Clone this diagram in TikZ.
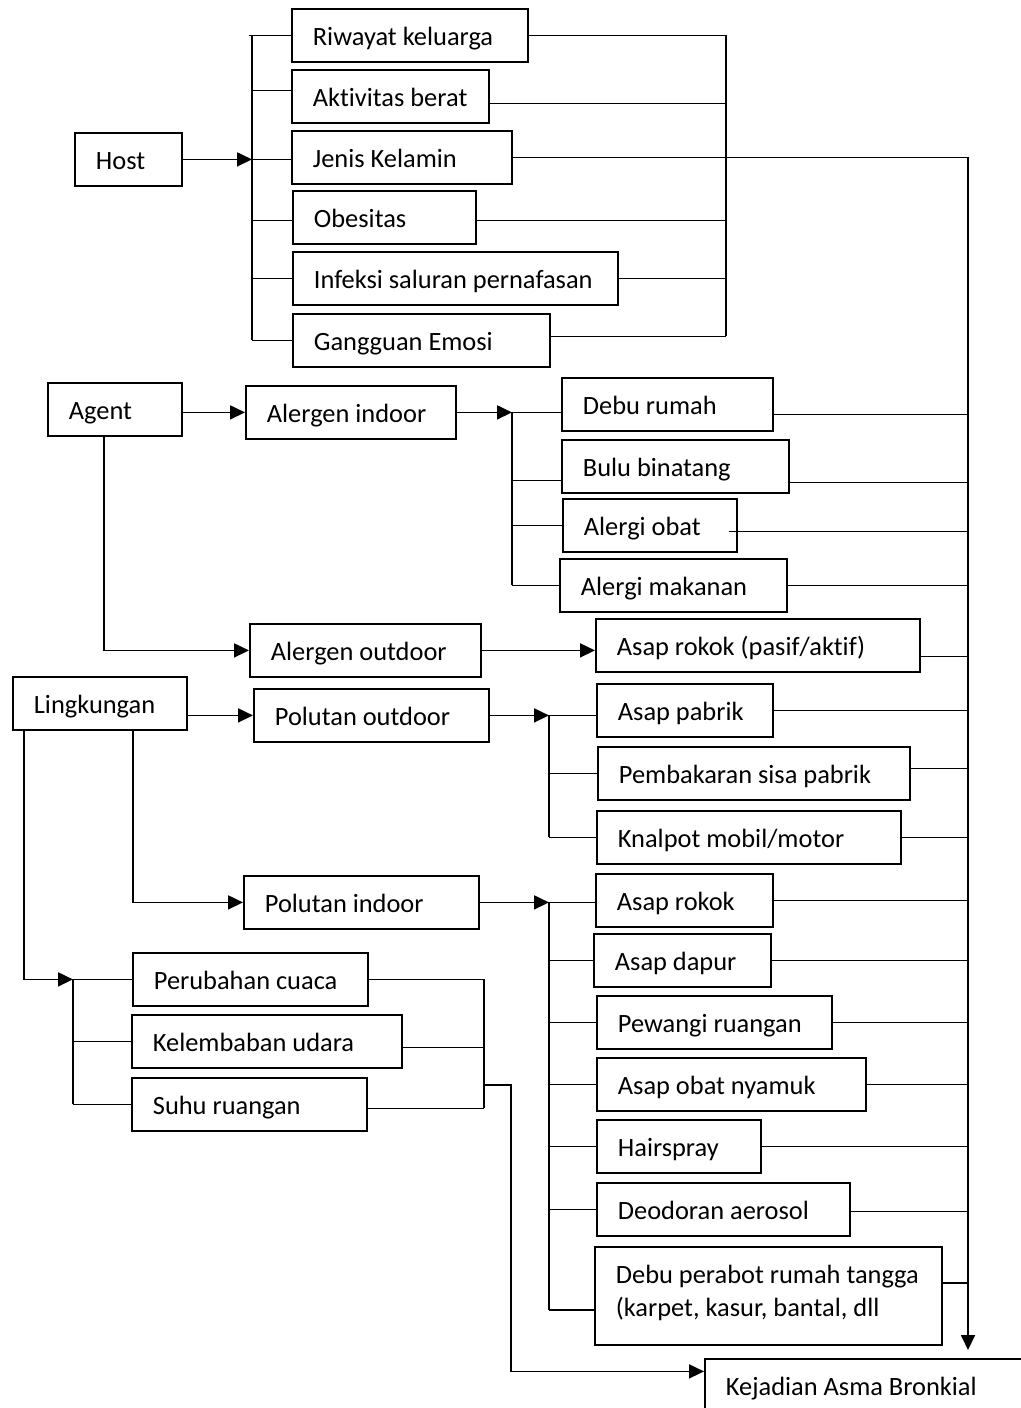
\documentclass[tikz,border=0pt]{standalone}
\usepackage{fontspec}
\setmainfont{Carlito}[Ligatures=NoCommon]
\usetikzlibrary{arrows.meta,calc}

\begin{document}
\begin{tikzpicture}[x=0.5pt, y=-0.5pt,
		box/.style={
			draw,
			line width=0.9pt,
			anchor=north west,
			inner xsep=10.5pt,
			inner ysep=0pt,
			minimum height=26.5pt,
			text height=12pt,
			text depth=1.5pt,
			font=\fontsize{13.2}{16.5}\selectfont,
			execute at begin node={\hbox to #1\bgroup},
			execute at end node={\hss\egroup}
		},
		line/.style={draw, line width=0.8pt},
		arr/.style={draw, line width=0.9pt, -{Triangle[length=7.5pt, width=7pt]}}
		]
		
		\clip (0,0) rectangle (1021,1408);
		
		% Host
		\node[box=32.5pt] (host) at (74,132) {Host};
		\node[box=97pt] (riwayat) at (291,8) {Riwayat keluarga};
		\node[box=77.5pt] (aktivitas) at (291,69) {Aktivitas berat};
		\node[box=89pt] (jenis) at (291,130) {Jenis Kelamin};
		\node[box=70.5pt] (obesitas) at (292,190) {Obesitas};
		\node[box=141.5pt] (infeksi) at (292,251) {Infeksi saluran pernafasan};
		\node[box=107.5pt] (emosi) at (292,313) {Gangguan Emosi};
		
		% Agent
		\node[box=46pt] (agent) at (47,382) {Agent};
		\node[box=84pt] (alergenin) at (245,385) {Alergen indoor};
		\node[box=94.5pt] (alergenout) at (249,623) {Alergen outdoor};
		\node[box=84.5pt] (debu) at (561,377) {Debu rumah};
		\node[box=92.5pt] (bulu) at (561,439) {Bulu binatang};
		\node[box=66pt] (obat) at (562,498) {Alergi obat};
		\node[box=92.5pt] (makanan) at (559,558) {Alergi makanan};
		\node[box=141pt] (rokokpa) at (595,618) {Asap rokok (pasif/aktif)};
		
		% Lingkungan
		\node[box=66pt] (lingkungan) at (12,676) {Lingkungan};
		\node[box=96.5pt] (polout) at (253,688) {Polutan outdoor};
		\node[box=67pt] (pabrik) at (596,683) {Asap pabrik};
		\node[box=135pt] (pembakaran) at (597,746) {Pembakaran sisa pabrik};
		\node[box=131pt] (knalpot) at (596,810) {Knalpot mobil/motor};
		\node[box=96.5pt] (polin) at (243,875) {Polutan indoor};
		\node[box=67.5pt] (rokok) at (595,873) {Asap rokok};
		\node[box=67.5pt] (dapur) at (593,933) {Asap dapur};
		\node[box=96.5pt] (pewangi) at (596,995) {Pewangi ruangan};
		\node[box=113.5pt] (nyamuk) at (596,1057) {Asap obat nyamuk};
		\node[box=61pt] (hair) at (596,1119) {Hairspray};
		\node[box=105.5pt] (deodoran) at (596,1182) {Deodoran aerosol};
		\node[box=152.5pt, minimum height=49pt, text height=22.5pt] (perabot) at (594,1246)
		{\vbox{\hbox{Debu perabot rumah tangga}\hbox{(karpet, kasur, bantal, dll}}};
		\node[box=96.5pt] (cuaca) at (132,952) {Perubahan cuaca};
		\node[box=114pt] (lembab) at (131,1014) {Kelembaban udara};
		\node[box=96.5pt] (suhu) at (131,1077) {Suhu ruangan};
		
		% Outcome
		\node[box=144pt] (kejadian) at (704,1358) {Kejadian Asma Bronkial};
		
		% Bracket positions
		\coordinate (hb) at (252,0);
		\coordinate (hc) at (726,0);
		\coordinate (rc) at (968,1350);
		\coordinate (ib) at (512,0);
		\coordinate (pb) at (549,0);
		\coordinate (lb) at (73,0);
		\coordinate (cb) at (484,0);
		\coordinate (cj) at (484,1085);
		
		% Host lines
		\draw[arr] (host.east) -- (host.east -| hb);
		\draw[line] (riwayat.west -| hb) -- (emosi.west -| hb);
		\draw[line] ($(riwayat.west -| hb)+(-3,0)$) -- (riwayat.west);
		\draw[line] ($(aktivitas.west -| hb)+(0,-6)$) -- ($(aktivitas.west)+(0,-6)$);
		\draw[line] (host.east -| hb) -- (host.east -| jenis.west);
		\draw[line] ($(obesitas.west -| hb)+(0,3)$) -- ($(obesitas.west)+(0,3)$);
		\draw[line] (infeksi.west -| hb) -- (infeksi.west);
		\draw[line] (emosi.west -| hb) -- (emosi.west);
		\draw[line] (riwayat.east) -- (riwayat.east -| hc);
		\draw[line] ($(aktivitas.east)+(0,7)$) -- ($(aktivitas.east -| hc)+(0,7)$);
		\draw[line] ($(obesitas.east)+(0,3)$) -- ($(obesitas.east -| hc)+(0,3)$);
		\draw[line] (infeksi.east) -- (infeksi.east -| hc);
		\draw[line] ($(emosi.east)+(0,-4)$) -- ($(emosi.east -| hc)+(0,-4)$);
		\draw[line] (riwayat.east -| hc) -- ($(emosi.east -| hc)+(0,-4)$);
		\draw[arr] (jenis.east) -| (rc);
		
		% Agent lines
		\draw[arr] (agent.east |- alergenin.west) -- (alergenin.west);
		\draw[arr] (alergenin.east) -- (alergenin.east -| ib);
		\draw[line] (alergenin.east -| ib) -- (makanan.west -| ib);
		\draw[line] (alergenin.east -| ib) -- (alergenin.east -| debu.west);
		\draw[line] ($(bulu.west -| ib)+(0,14)$) -- ($(bulu.west)+(0,14)$);
		\draw[line] (obat.west -| ib) -- (obat.west);
		\draw[line] (makanan.west -| ib) -- (makanan.west);
		\draw[arr] ([xshift=-5.5pt]agent.south) |- (alergenout.west);
		\draw[arr] (alergenout.east) -- (alergenout.east -| rokokpa.west);
		\draw[line] ($(debu.east)+(0,10)$) -- ($(debu.east -| rc)+(0,10)$);
		\draw[line] ($(bulu.east)+(0,16)$) -- ($(bulu.east -| rc)+(0,16)$);
		\draw[line] ($(obat.east)+(-9,6)$) -- ($(obat.east -| rc)+(0,6)$);
		\draw[line] (makanan.east) -- (makanan.east -| rc);
		\draw[line] ($(rokokpa.east)+(0,11)$) -- ($(rokokpa.east -| rc)+(0,11)$);
		
		% Lingkungan lines
		\draw[arr] (lingkungan.east |- polout.west) -- (polout.west);
		\draw[arr] (polout.east) -- (polout.east -| pb);
		\draw[line] (polout.east -| pb) -- (knalpot.west -| pb);
		\draw[line] (polout.east -| pb) -- (polout.east -| pabrik.west);
		\draw[line] (pembakaran.west -| pb) -- (pembakaran.west);
		\draw[line] (knalpot.west -| pb) -- (knalpot.west);
		\draw[line] (pabrik.east) -- (pabrik.east -| rc);
		\draw[line] ($(pembakaran.east)+(0,-5)$) -- ($(pembakaran.east -| rc)+(0,-5)$);
		\draw[line] (knalpot.east) -- (knalpot.east -| rc);
		
		\draw[arr] ([xshift=60.5pt]lingkungan.south west) |- (polin.west);
		\draw[arr] (polin.east) -- (polin.east -| pb);
		\draw[line] (polin.east -| pb) -- ($(perabot.west -| pb)+(0,14)$);
		\draw[line] (polin.east -| pb) -- (polin.east -| rokok.west);
		\draw[line] (dapur.west -| pb) -- (dapur.west);
		\draw[line] (pewangi.west -| pb) -- (pewangi.west);
		\draw[line] (nyamuk.west -| pb) -- (nyamuk.west);
		\draw[line] (hair.west -| pb) -- (hair.west);
		\draw[line] (deodoran.west -| pb) -- (deodoran.west);
		\draw[line] ($(perabot.west -| pb)+(0,14)$) -- ($(perabot.west)+(0,14)$);
		\draw[line] (rokok.east) -- (rokok.east -| rc);
		\draw[line] (dapur.east) -- (dapur.east -| rc);
		\draw[line] (pewangi.east) -- (pewangi.east -| rc);
		\draw[line] (nyamuk.east) -- (nyamuk.east -| rc);
		\draw[line] (hair.east) -- (hair.east -| rc);
		\draw[line] ($(deodoran.east)+(0,2)$) -- ($(deodoran.east -| rc)+(0,2)$);
		\draw[line] ($(perabot.east)+(0,-13)$) -- ($(perabot.east -| rc)+(0,-13)$);
		
		\draw[arr] ([xshift=6pt]lingkungan.south west) |- (cuaca.west -| lb);
		\draw[line] (cuaca.west -| lb) -- (suhu.west -| lb);
		\draw[line] (cuaca.west -| lb) -- (cuaca.west);
		\draw[line] (lembab.west -| lb) -- (lembab.west);
		\draw[line] (suhu.west -| lb) -- (suhu.west);
		\draw[line] (cuaca.east) -- (cuaca.east -| cb);
		\draw[line] ($(lembab.east)+(0,6)$) -- ($(lembab.east -| cb)+(0,6)$);
		\draw[line] ($(suhu.east)+(0,4)$) -- ($(suhu.east -| cb)+(0,4)$);
		\draw[line] (cuaca.east -| cb) -- ($(suhu.east -| cb)+(0,4)$);
		\draw[arr] (cj) -- ++(27,0) |- ($(kejadian.west)+(0,-14)$);
		
	\end{tikzpicture}
\end{document}
